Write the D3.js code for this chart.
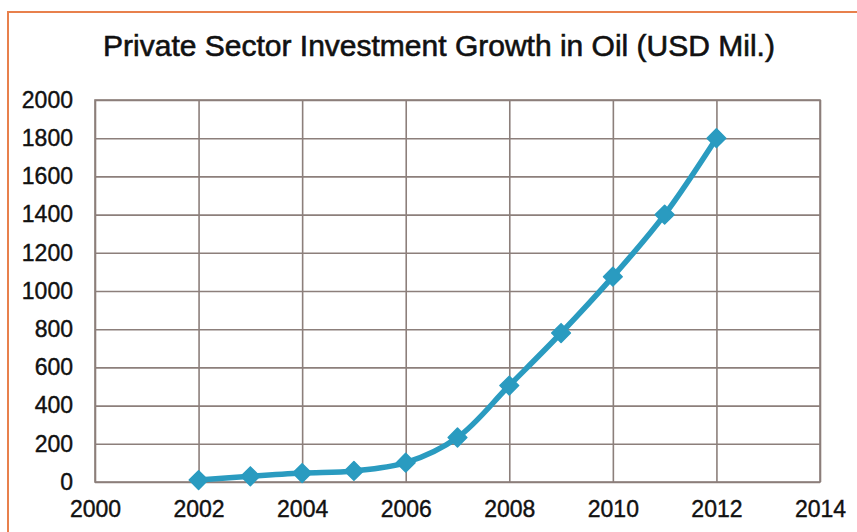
<!DOCTYPE html>
<html>
<head>
<meta charset="utf-8">
<script src="https://cdn.jsdelivr.net/npm/d3@7"></script>
<style>
  html, body { margin: 0; padding: 0; background: #ffffff; }
  svg { display: block; }
  text { font-family: "Liberation Sans", Arial, sans-serif; fill: #111111; }
</style>
</head>
<body>
<svg id="chart" width="857" height="532"></svg>
<script>
// Private sector investment in oil, USD millions
const years = [2002, 2003, 2004, 2005, 2006, 2007, 2008, 2009, 2010, 2011, 2012];
const investment = [10, 30, 47, 58, 101, 233, 505, 780, 1075, 1400, 1800];
const xTicks = [2000, 2002, 2004, 2006, 2008, 2010, 2012, 2014];
const yTicks = [0, 200, 400, 600, 800, 1000, 1200, 1400, 1600, 1800, 2000];
const title = "Private Sector Investment Growth in Oil (USD Mil.)";

const svg = d3.select("#chart");
const W = 857, H = 532;
const m = { left: 95, right: 820, top: 100, bottom: 482 };
const ink = "#111111";

// outer frame
svg.append("rect")
  .attr("x", 8).attr("y", 12)
  .attr("width", W + 20).attr("height", H + 20)
  .attr("fill", "#ffffff")
  .attr("stroke", "#e8804c").attr("stroke-width", 2);

svg.append("text")
  .attr("x", 439).attr("y", 56)
  .attr("text-anchor", "middle")
  .attr("font-size", 30)
  .attr("stroke", ink).attr("stroke-width", 0.6)
  .text(title);

const x = d3.scaleLinear().domain([2000, 2014]).range([m.left, m.right]);
const y = d3.scaleLinear().domain([0, 2000]).range([m.bottom, m.top]);

const gridColor = "#8c7f7b";

function styleLabels(g) {
  g.selectAll(".tick text")
    .attr("font-size", 23)
    .attr("fill", ink)
    .attr("stroke", ink).attr("stroke-width", 0.4)
    .attr("font-family", "Liberation Sans, Arial, sans-serif");
  g.selectAll(".tick line").attr("stroke", gridColor).attr("stroke-width", 1.6);
  g.select(".domain").remove();
}

// horizontal gridlines + y labels
const yAxis = d3.axisLeft(y).tickValues(yTicks).tickSize(-(m.right - m.left)).tickPadding(22).tickFormat(d3.format("d"));
svg.append("g").attr("transform", `translate(${m.left},0)`).call(yAxis).call(styleLabels);

// vertical gridlines + x labels
const xAxis = d3.axisBottom(x).tickValues(xTicks).tickSize(-(m.bottom - m.top)).tickPadding(19).tickFormat(d3.format("d"));
svg.append("g").attr("transform", `translate(0,${m.bottom})`).call(xAxis).call(styleLabels);

// plot border
svg.append("rect")
  .attr("x", m.left).attr("y", m.top)
  .attr("width", m.right - m.left).attr("height", m.bottom - m.top)
  .attr("fill", "none").attr("stroke", gridColor).attr("stroke-width", 1.6);

const pts = years.map((yr, i) => ({ yr, v: investment[i] }));
const lineColor = "#2a9bc0";

svg.append("path")
  .datum(pts)
  .attr("fill", "none")
  .attr("stroke", lineColor)
  .attr("stroke-width", 5.5)
  .attr("stroke-linejoin", "round")
  .attr("d", d3.line().x(d => x(d.yr)).y(d => y(d.v)).curve(d3.curveCatmullRom.alpha(0.5)));

svg.append("g").selectAll("path")
  .data(pts)
  .join("path")
  .attr("d", d3.symbol(d3.symbolSquare, 175))
  .attr("transform", d => `translate(${x(d.yr)},${y(d.v)}) rotate(45)`)
  .attr("fill", lineColor)
  .attr("stroke", lineColor)
  .attr("stroke-width", 1.5)
  .attr("stroke-linejoin", "round");
</script>
</body>
</html>
